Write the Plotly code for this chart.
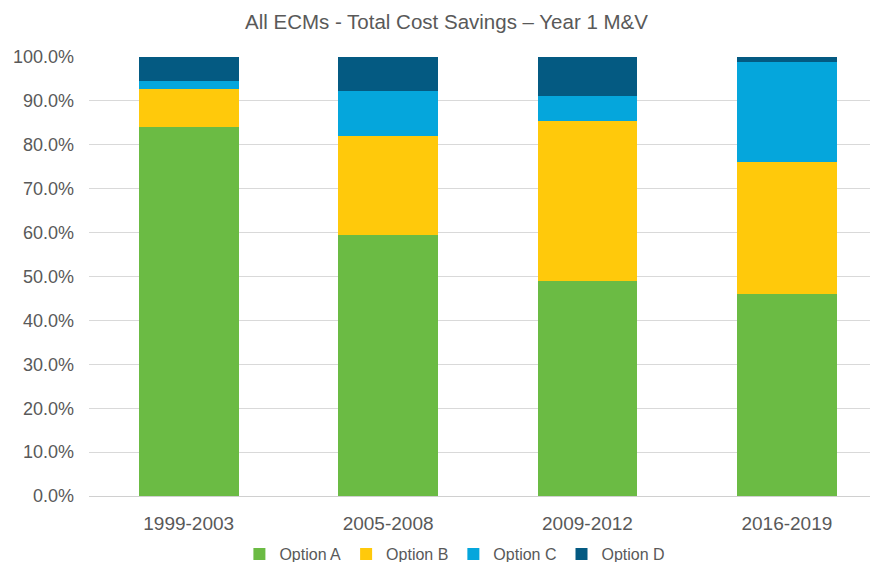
import plotly.graph_objects as go

categories = ["1999-2003", "2005-2008", "2009-2012", "2016-2019"]
option_a = [0.840, 0.595, 0.490, 0.461]
option_b = [0.087, 0.225, 0.365, 0.300]
option_c = [0.019, 0.102, 0.057, 0.228]
option_d = [0.054, 0.078, 0.088, 0.011]

series = [
    ("Option A", option_a, "#6BBB44"),
    ("Option B", option_b, "#FFC90B"),
    ("Option C", option_c, "#05A6DC"),
    ("Option D", option_d, "#045A82"),
]

fig = go.Figure()
for name, vals, color in series:
    fig.add_trace(go.Bar(name=name, x=categories, y=vals, marker=dict(color=color, line=dict(width=0))))

font_family = "Liberation Sans, Arial, sans-serif"
text_color = "#595959"

# page has an 8px body margin; layout is compensated for it
fig.update_layout(
    barmode="stack",
    bargap=0.5,
    width=878,
    height=562,
    paper_bgcolor="white",
    plot_bgcolor="white",
    margin=dict(l=81, r=8, t=49, b=74, autoexpand=False),
    font=dict(family=font_family, color=text_color),
    title=dict(
        text="All ECMs - Total Cost Savings \u2013 Year 1 M&V",
        x=0.4994, xref="container", xanchor="center",
        y=0.975, yref="container", yanchor="middle",
        font=dict(size=20.5, color=text_color, family=font_family),
    ),
    legend=dict(
        orientation="h",
        x=0.509, xref="container", xanchor="center",
        y=0.0285, yref="container", yanchor="middle",
        font=dict(size=16, color=text_color),
        itemwidth=30,
        traceorder="normal",
    ),
    xaxis=dict(
        range=[-0.5, 3.457],
        showgrid=False,
        showline=False,
        automargin=False,
        tickfont=dict(size=19, color=text_color),
        ticklabelstandoff=14,
    ),
    yaxis=dict(
        range=[0, 1.0],
        tickvals=[i / 10 for i in range(11)],
        tickformat=".1%",
        showgrid=True,
        gridcolor="#D9D9D9",
        gridwidth=1,
        zeroline=True,
        zerolinecolor="#D0D0D0",
        zerolinewidth=1,
        automargin=False,
        tickfont=dict(size=18, color=text_color),
        ticklabelstandoff=14,
    ),
)

fig.write_html("out.html")
